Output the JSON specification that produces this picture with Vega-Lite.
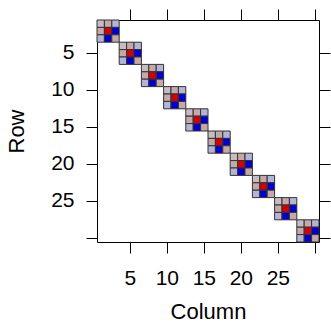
{
  "$schema": "https://vega.github.io/schema/vega-lite/v6.json",
  "autosize": {"type": "none"},
  "padding": {"left": 97, "top": 20, "right": 12, "bottom": 81},
  "width": 222,
  "height": 222,
  "background": "white",
  "config": {
    "view": {"stroke": "black", "strokeWidth": 1},
    "axis": {
      "domain": false, "grid": false, "tickSize": 11, "tickColor": "black", "tickWidth": 1,
      "labelColor": "black", "labelFont": "Liberation Sans", "labelFontSize": 21,
      "titleColor": "black", "titleFont": "Liberation Sans", "titleFontSize": 22, "titleFontWeight": "normal",
      "labelAngle": 0
    }
  },
  "data": {"values": [
    {"r":1,"c":1,"v":0.1},{"r":1,"c":2,"v":0.3},{"r":1,"c":3,"v":-0.3},{"r":2,"c":1,"v":0.3},{"r":2,"c":2,"v":2},{"r":2,"c":3,"v":-1},{"r":3,"c":1,"v":-0.3},{"r":3,"c":2,"v":-1},{"r":3,"c":3,"v":0.3},
    {"r":4,"c":4,"v":0.1},{"r":4,"c":5,"v":0.3},{"r":4,"c":6,"v":-0.3},{"r":5,"c":4,"v":0.3},{"r":5,"c":5,"v":2},{"r":5,"c":6,"v":-1},{"r":6,"c":4,"v":-0.3},{"r":6,"c":5,"v":-1},{"r":6,"c":6,"v":0.3},
    {"r":7,"c":7,"v":0.1},{"r":7,"c":8,"v":0.3},{"r":7,"c":9,"v":-0.3},{"r":8,"c":7,"v":0.3},{"r":8,"c":8,"v":2},{"r":8,"c":9,"v":-1},{"r":9,"c":7,"v":-0.3},{"r":9,"c":8,"v":-1},{"r":9,"c":9,"v":0.3},
    {"r":10,"c":10,"v":0.1},{"r":10,"c":11,"v":0.3},{"r":10,"c":12,"v":-0.3},{"r":11,"c":10,"v":0.3},{"r":11,"c":11,"v":2},{"r":11,"c":12,"v":-1},{"r":12,"c":10,"v":-0.3},{"r":12,"c":11,"v":-1},{"r":12,"c":12,"v":0.3},
    {"r":13,"c":13,"v":0.1},{"r":13,"c":14,"v":0.3},{"r":13,"c":15,"v":-0.3},{"r":14,"c":13,"v":0.3},{"r":14,"c":14,"v":2},{"r":14,"c":15,"v":-1},{"r":15,"c":13,"v":-0.3},{"r":15,"c":14,"v":-1},{"r":15,"c":15,"v":0.3},
    {"r":16,"c":16,"v":0.1},{"r":16,"c":17,"v":0.3},{"r":16,"c":18,"v":-0.3},{"r":17,"c":16,"v":0.3},{"r":17,"c":17,"v":2},{"r":17,"c":18,"v":-1},{"r":18,"c":16,"v":-0.3},{"r":18,"c":17,"v":-1},{"r":18,"c":18,"v":0.3},
    {"r":19,"c":19,"v":0.1},{"r":19,"c":20,"v":0.3},{"r":19,"c":21,"v":-0.3},{"r":20,"c":19,"v":0.3},{"r":20,"c":20,"v":2},{"r":20,"c":21,"v":-1},{"r":21,"c":19,"v":-0.3},{"r":21,"c":20,"v":-1},{"r":21,"c":21,"v":0.3},
    {"r":22,"c":22,"v":0.1},{"r":22,"c":23,"v":0.3},{"r":22,"c":24,"v":-0.3},{"r":23,"c":22,"v":0.3},{"r":23,"c":23,"v":2},{"r":23,"c":24,"v":-1},{"r":24,"c":22,"v":-0.3},{"r":24,"c":23,"v":-1},{"r":24,"c":24,"v":0.3},
    {"r":25,"c":25,"v":0.1},{"r":25,"c":26,"v":0.3},{"r":25,"c":27,"v":-0.3},{"r":26,"c":25,"v":0.3},{"r":26,"c":26,"v":2},{"r":26,"c":27,"v":-1},{"r":27,"c":25,"v":-0.3},{"r":27,"c":26,"v":-1},{"r":27,"c":27,"v":0.3},
    {"r":28,"c":28,"v":0.1},{"r":28,"c":29,"v":0.3},{"r":28,"c":30,"v":-0.3},{"r":29,"c":28,"v":0.3},{"r":29,"c":29,"v":2},{"r":29,"c":30,"v":-1},{"r":30,"c":28,"v":-0.3},{"r":30,"c":29,"v":-1},{"r":30,"c":30,"v":0.3}
  ]},
  "resolve": {"axis": {"x": "independent", "y": "independent"}},
  "layer": [
    {
      "mark": {"type": "rect", "stroke": "#333333", "strokeWidth": 1},
      "encoding": {
        "x": {"field": "c", "type": "ordinal", "scale": {"paddingInner": 0, "paddingOuter": 0},
          "axis": {"orient": "bottom", "title": "Column", "values": [5,10,15,20,25,30],
            "labelExpr": "datum.value == 30 ? '' : datum.label", "labelPadding": 14, "titlePadding": 13}},
        "y": {"field": "r", "type": "ordinal", "scale": {"paddingInner": 0, "paddingOuter": 0},
          "axis": {"orient": "left", "title": "Row", "values": [5,10,15,20,25,30],
            "labelExpr": "datum.value == 30 ? '' : datum.label", "labelPadding": 12, "titlePadding": 22}},
        "color": {"field": "v", "type": "quantitative", "legend": null,
          "scale": {"type": "linear", "domain": [-1, -0.3, 0.1, 0.3, 2],
            "range": ["#0000d6", "#b4b4d8", "#c6bcc4", "#c6a8a8", "#d60000"]}}
      }
    },
    {
      "mark": {"type": "rect", "opacity": 0},
      "encoding": {
        "x": {"field": "c", "type": "ordinal",
          "axis": {"orient": "top", "title": null, "labels": false, "values": [5,10,15,20,25,30]}},
        "y": {"field": "r", "type": "ordinal",
          "axis": {"orient": "right", "title": null, "labels": false, "values": [5,10,15,20,25,30]}}
      }
    }
  ]
}
